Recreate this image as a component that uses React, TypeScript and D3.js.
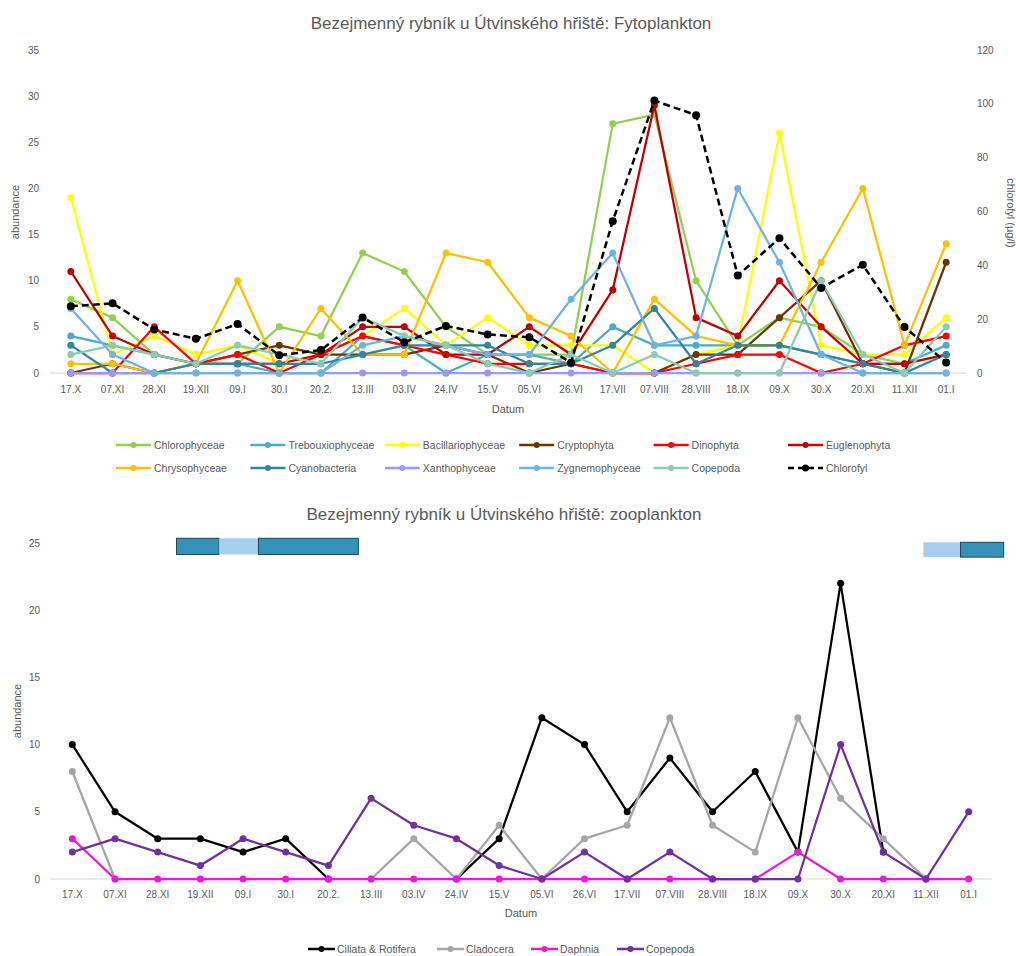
import React from "react";
import * as d3 from "d3";

const categories = ["17.X","07.XI","28.XI","19.XII","09.I","30.I","20.2.","13.III","03.IV","24.IV","15.V","05.VI","26.VI","17.VII","07.VIII","28.VIII","18.IX","09.X","30.X","20.XI","11.XII","01.I"];

const chlorophyceae = [8,6,2,1,1,5,4,13,11,5,2,2,2,27,28,10,3,6,5,2,1,2];
const trebouxiophyceae = [4,3,2,1,1,0,0,4,3,0,2,2,1,5,3,3,3,3,2,1,1,3];
const bacillariophyceae = [19,2,4,2,3,1,2,4,7,3,6,3,3,3,0,2,3,26,3,2,2,6];
const cryptophyta = [0,1,0,1,2,3,2,2,2,3,2,0,1,0,0,2,2,6,10,1,0,12];
const dinophyta = [0,0,5,1,2,0,2,4,3,2,1,1,1,0,0,1,2,2,0,1,3,4];
const euglenophyta = [11,4,2,1,1,1,2,5,5,2,2,5,2,9,29,6,4,10,5,1,1,2];
const chrysophyceae = [1,1,0,1,10,0,7,2,2,13,12,6,4,0,8,4,3,3,12,20,3,14];
const cyanobacteria = [3,0,0,1,1,1,1,2,3,3,3,1,1,3,7,1,3,3,2,1,0,2];
const xanthophyceae = [0,0,0,0,0,0,0,0,0,0,0,0,0,0,0,0,0,0,0,0,0,0];
const zygnemophyceae = [7,2,0,0,0,0,0,3,4,3,2,2,8,13,3,4,20,12,2,0,0,0];
const copepodaPhyto = [2,3,2,1,3,2,1,6,4,3,1,0,2,0,2,0,0,0,10,2,0,5];
const chlorofyl = [24.8,25.9,16.2,12.7,18.2,6.6,8.5,20.6,11.4,17.5,14.3,13.3,3.8,56.4,101.2,95.8,36.2,50.1,31.6,40.2,17.1,3.9];

const ciliataRotifera = [10,5,3,3,2,3,0,null,null,0,3,12,10,5,9,5,8,2,22,2,null,null];
const cladocera = [8,0,null,null,null,null,null,0,3,0,4,0,3,4,12,4,2,12,6,3,0,null];
const daphnia = [3,0,0,0,0,0,0,0,0,0,0,0,0,0,0,0,0,2,0,0,0,0];
const copepoda = [2,3,2,1,3,2,1,6,4,3,1,0,2,0,2,0,0,0,10,2,0,5];

const leftTicks = [0,5,10,15,20,25,30,35];
const rightTicks = [0,20,40,60,80,100,120];
const zooTicks = [0,5,10,15,20,25];

// ice / snow cover bars (fractional category index)
const coverPeriods = [
  { from: 2.44, to: 3.44, kind: "ice", y0: 24.15, y1: 25.35 },
  { from: 3.44, to: 4.36, kind: "snow", y0: 24.15, y1: 25.35 },
  { from: 4.36, to: 6.7, kind: "ice", y0: 24.15, y1: 25.35 },
  { from: 19.94, to: 20.81, kind: "snow", y0: 23.95, y1: 25.05 },
  { from: 20.81, to: 21.82, kind: "ice", y0: 23.95, y1: 25.05 },
];

const phytoSeries = [
  { name: "Chlorophyceae", values: chlorophyceae, color: "#92D050" },
  { name: "Trebouxiophyceae", values: trebouxiophyceae, color: "#4BACC6" },
  { name: "Bacillariophyceae", values: bacillariophyceae, color: "#FFFF00" },
  { name: "Cryptophyta", values: cryptophyta, color: "#6B3500" },
  { name: "Dinophyta", values: dinophyta, color: "#FF0000" },
  { name: "Euglenophyta", values: euglenophyta, color: "#C00000" },
  { name: "Chrysophyceae", values: chrysophyceae, color: "#FFC000" },
  { name: "Cyanobacteria", values: cyanobacteria, color: "#31859C" },
  { name: "Xanthophyceae", values: xanthophyceae, color: "#9999FF" },
  { name: "Zygnemophyceae", values: zygnemophyceae, color: "#6FB3E3" },
  { name: "Copepoda", values: copepodaPhyto, color: "#8CCBB3" },
];

const zooSeries = [
  { name: "Ciliata & Rotifera", values: ciliataRotifera, color: "#000000" },
  { name: "Cladocera", values: cladocera, color: "#A6A6A6" },
  { name: "Daphnia", values: daphnia, color: "#E01ED6" },
  { name: "Copepoda", values: copepoda, color: "#7030A0" },
];

const FONT = "'Liberation Sans', Arial, sans-serif";
const GRAY = "#595959";

export default function App() {
  // Top chart scales
  const xTop = d3.scaleBand().domain(categories).range([50, 967]);
  const cxTop = (i: number) => (xTop(categories[i]) as number) + xTop.bandwidth() / 2;
  const yL = d3.scaleLinear().domain([0, 35]).range([373, 50]);
  const yR = d3.scaleLinear().domain([0, 120]).range([373, 50]);

  // Bottom chart scales
  const xBot = d3.scaleBand().domain(categories).range([51, 990]);
  const cxBot = (i: number) => (xBot(categories[i]) as number) + xBot.bandwidth() / 2;
  const idxBot = d3.scaleLinear().domain([0, categories.length - 1]).range([cxBot(0), cxBot(categories.length - 1)]);
  const yB = d3.scaleLinear().domain([0, 25]).range([879, 543]);

  const lineTop = (vals: number[], y: d3.ScaleLinear<number, number>) =>
    d3.line<number>().x((_, i) => cxTop(i)).y((d) => y(d))(vals) as string;

  const lineBot = d3
    .line<number | null>()
    .defined((d) => d !== null)
    .x((_, i) => cxBot(i))
    .y((d) => yB(d as number));

  const legCol0 = 116;
  const legStep = 134.4;
  const legendItems = [...phytoSeries.map((s) => ({ ...s, dashed: false })), { name: "Chlorofyl", values: chlorofyl, color: "#000000", dashed: true }];
  const legendOrder = [
    "Chlorophyceae", "Trebouxiophyceae", "Bacillariophyceae", "Cryptophyta", "Dinophyta", "Euglenophyta",
    "Chrysophyceae", "Cyanobacteria", "Xanthophyceae", "Zygnemophyceae", "Copepoda", "Chlorofyl",
  ];

  const zooLegendX = [308, 437, 531, 617];

  return (
    <svg width={1016} height={956} style={{ position: "absolute", left: 0, top: 0, background: "#fff" }} fontFamily={FONT}>
      <rect x={0} y={0} width={1016} height={956} fill="#fff" />
      {/* ===== Top chart ===== */}
      <text x={511} y={28.5} textAnchor="middle" fontSize={17} fill={GRAY}>
        Bezejmenný rybník u Útvinského hřiště: Fytoplankton
      </text>
      {leftTicks.map((t) => (
        <text key={"l" + t} x={39} y={yL(t) + 3.5} textAnchor="end" fontSize={10} fill={GRAY}>{t}</text>
      ))}
      {rightTicks.map((t) => (
        <text key={"r" + t} x={977} y={yR(t) + 3.5} textAnchor="start" fontSize={10} fill={GRAY}>{t}</text>
      ))}
      <line x1={50} x2={967} y1={yL(0)} y2={yL(0)} stroke="#D9D9D9" strokeWidth={1} />
      {categories.map((c, i) => (
        <text key={"xt" + c} x={cxTop(i)} y={393} textAnchor="middle" fontSize={10} fill={GRAY}>{c}</text>
      ))}
      <text x={508} y={413} textAnchor="middle" fontSize={11} fill={GRAY}>Datum</text>
      <text transform={`translate(19,212) rotate(-90)`} textAnchor="middle" fontSize={11} fill={GRAY}>abundance</text>
      <text transform={`translate(1007,213) rotate(90)`} textAnchor="middle" fontSize={11} fill={GRAY}>chlorofyl (µg/l)</text>

      {phytoSeries.map((s) => (
        <g key={s.name}>
          <path d={lineTop(s.values, yL)} fill="none" stroke={s.color} strokeWidth={2.25} strokeLinejoin="round" />
          {s.values.map((v, i) => (
            <circle key={i} cx={cxTop(i)} cy={yL(v)} r={3.5} fill={s.color} />
          ))}
        </g>
      ))}
      <g>
        <path d={lineTop(chlorofyl, yR)} fill="none" stroke="#000" strokeWidth={2.5} strokeDasharray="7,4" />
        {chlorofyl.map((v, i) => (
          <circle key={i} cx={cxTop(i)} cy={yR(v)} r={4} fill="#000" />
        ))}
      </g>

      {/* Top legend */}
      {legendOrder.map((name, k) => {
        const item = legendItems.find((d) => d.name === name)!;
        const row = Math.floor(k / 6);
        const col = k % 6;
        const x = legCol0 + col * legStep;
        const y = row === 0 ? 445 : 468;
        return (
          <g key={"lg" + name}>
            <line x1={x} x2={x + 35} y1={y} y2={y} stroke={item.color} strokeWidth={2.5} strokeDasharray={item.dashed ? "6,4" : undefined} />
            <circle cx={x + 17.5} cy={y} r={item.dashed ? 3.5 : 3} fill={item.color} />
            <text x={x + 38} y={y + 3.5} fontSize={10.5} fill={GRAY}>{name}</text>
          </g>
        );
      })}

      {/* ===== Bottom chart ===== */}
      <text x={504} y={520} textAnchor="middle" fontSize={17} fill={GRAY}>
        Bezejmenný rybník u Útvinského hřiště: zooplankton
      </text>
      {zooTicks.map((t) => (
        <text key={"z" + t} x={40} y={yB(t) + 3.5} textAnchor="end" fontSize={10} fill={GRAY}>{t}</text>
      ))}
      <line x1={50} x2={992} y1={yB(0)} y2={yB(0)} stroke="#D9D9D9" strokeWidth={1} />
      {categories.map((c, i) => (
        <text key={"xb" + c} x={cxBot(i)} y={898} textAnchor="middle" fontSize={10} fill={GRAY}>{c}</text>
      ))}
      <text x={521} y={917} textAnchor="middle" fontSize={11} fill={GRAY}>Datum</text>
      <text transform={`translate(21,711) rotate(-90)`} textAnchor="middle" fontSize={11} fill={GRAY}>abundance</text>

      {coverPeriods.map((p, k) => (
        <rect
          key={"cv" + k}
          x={idxBot(p.from)}
          y={yB(p.y1)}
          width={idxBot(p.to) - idxBot(p.from)}
          height={yB(p.y0) - yB(p.y1)}
          fill={p.kind === "ice" ? "#3593BA" : "#A5CFEC"}
          stroke={p.kind === "ice" ? "#1E4556" : "none"}
          strokeWidth={1}
        />
      ))}

      {zooSeries.map((s) => (
        <g key={"zs" + s.name}>
          <path d={lineBot(s.values) as string} fill="none" stroke={s.color} strokeWidth={2.25} strokeLinejoin="round" />
          {s.values.map((v, i) =>
            v === null ? null : <circle key={i} cx={cxBot(i)} cy={yB(v)} r={3.5} fill={s.color} />
          )}
        </g>
      ))}

      {zooSeries.map((s, k) => (
        <g key={"zl" + s.name}>
          <line x1={zooLegendX[k]} x2={zooLegendX[k] + 27} y1={949} y2={949} stroke={s.color} strokeWidth={2.5} />
          <circle cx={zooLegendX[k] + 13.5} cy={949} r={3} fill={s.color} />
          <text x={zooLegendX[k] + 29} y={952.5} fontSize={10.5} fill={GRAY}>{s.name}</text>
        </g>
      ))}
    </svg>
  );
}
